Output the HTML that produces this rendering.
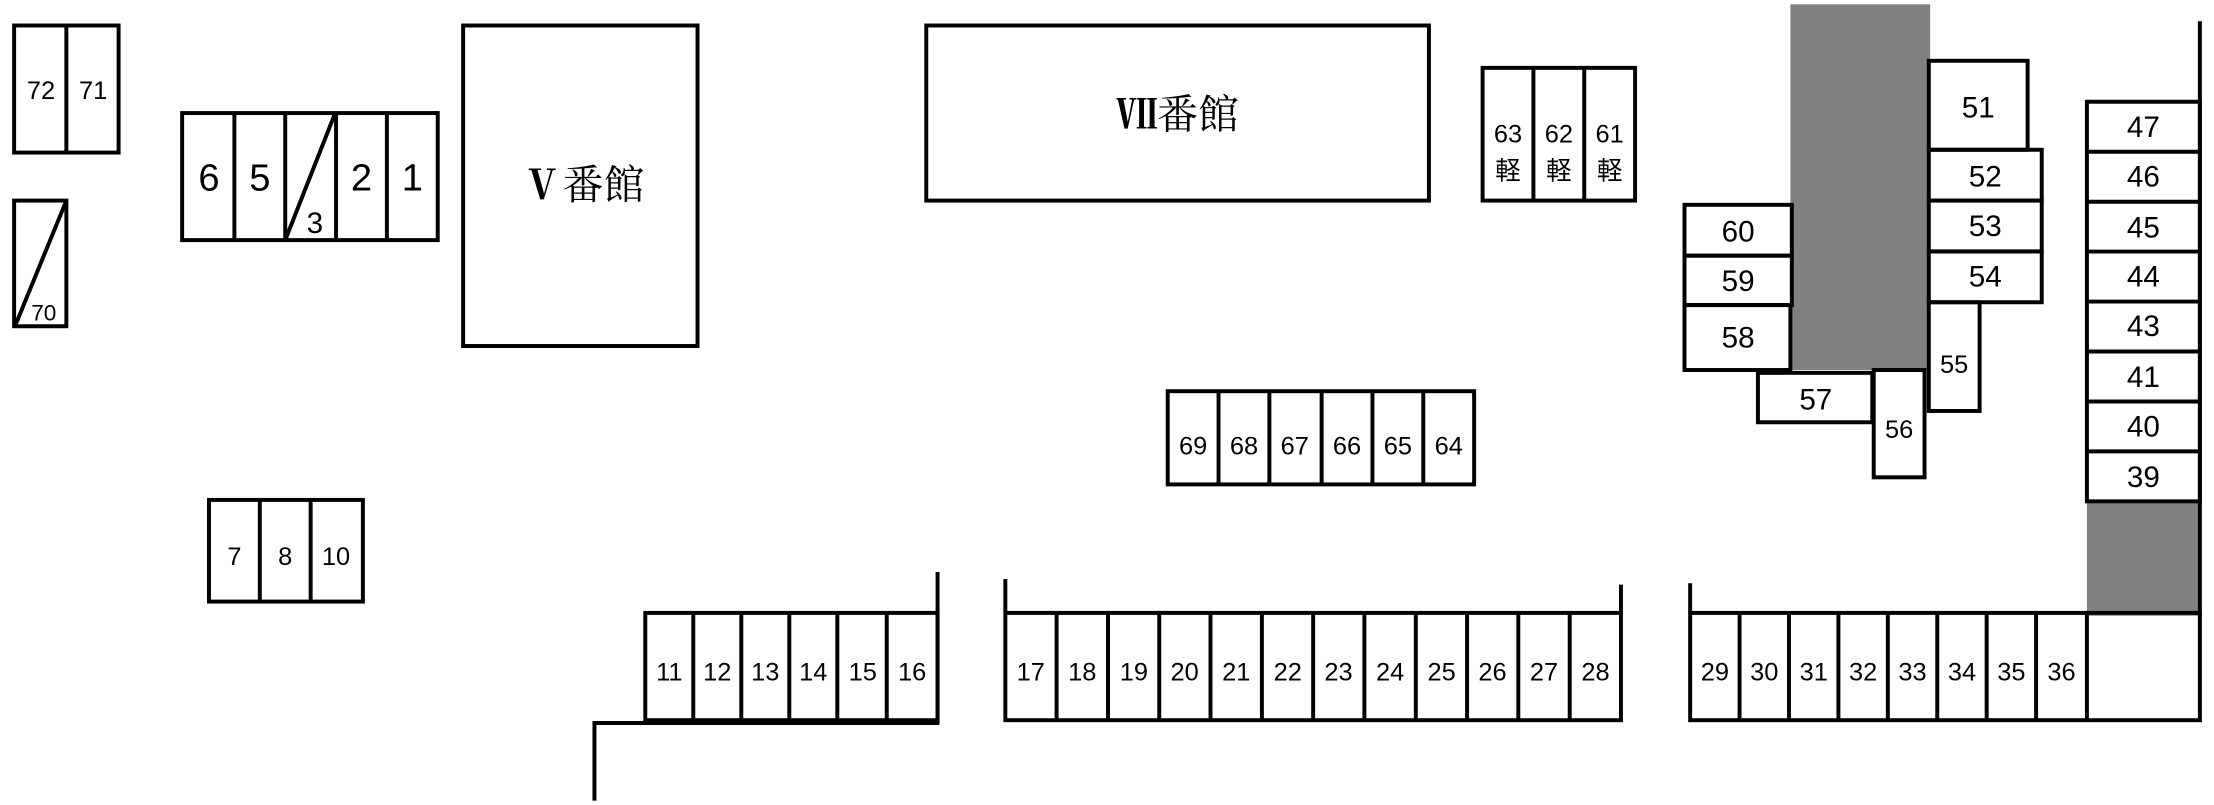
<!DOCTYPE html>
<html><head><meta charset="utf-8"><style>
html,body{margin:0;padding:0;background:#fff;}
svg{display:block;}
text{font-family:"Liberation Sans","Noto Sans CJK JP",sans-serif;text-anchor:middle;fill:#000;}
</style></head><body>
<svg width="2214" height="805" viewBox="0 0 1568 570" xmlns="http://www.w3.org/2000/svg">
<g fill="#808080" stroke="none">
<rect x="1268" y="3" width="99" height="259"/>
<rect x="1478" y="355" width="81" height="81"/>
</g>
<g fill="none" stroke="#000" stroke-width="2.8">
<rect x="10" y="18" width="74" height="90"/><line x1="47" y1="18" x2="47" y2="108"/>
<rect x="10" y="142" width="37" height="89"/><line x1="11" y1="230" x2="47" y2="142"/>
<rect x="129" y="80" width="181" height="90"/>
<line x1="166" y1="80" x2="166" y2="170"/><line x1="202" y1="80" x2="202" y2="170"/>
<line x1="238" y1="80" x2="238" y2="170"/><line x1="274" y1="80" x2="274" y2="170"/>
<line x1="202" y1="170" x2="237" y2="81"/>
<rect x="328" y="18" width="166" height="227"/>
<rect x="656" y="18" width="356" height="124"/>
<rect x="1050" y="48" width="108" height="94"/>
<line x1="1086" y1="48" x2="1086" y2="142"/><line x1="1122" y1="48" x2="1122" y2="142"/>
<rect x="827" y="277" width="217" height="66"/>
<line x1="863" y1="277" x2="863" y2="343"/><line x1="899" y1="277" x2="899" y2="343"/>
<line x1="936" y1="277" x2="936" y2="343"/><line x1="972" y1="277" x2="972" y2="343"/>
<line x1="1008" y1="277" x2="1008" y2="343"/>
<rect x="148" y="354" width="109" height="72"/>
<line x1="184" y1="354" x2="184" y2="426"/><line x1="220" y1="354" x2="220" y2="426"/>
<rect x="457" y="434" width="207" height="76"/>
<line x1="491" y1="434" x2="491" y2="510"/><line x1="525" y1="434" x2="525" y2="510"/>
<line x1="559" y1="434" x2="559" y2="510"/><line x1="593" y1="434" x2="593" y2="510"/>
<line x1="628" y1="434" x2="628" y2="510"/>
<line x1="664" y1="405" x2="664" y2="513"/>
<polyline points="665,512 421,512 421,567"/>
<line x1="457" y1="511" x2="665" y2="511" stroke-width="4"/>
<rect x="712" y="434" width="436" height="76"/>
<line x1="712" y1="410" x2="712" y2="434"/><line x1="1148" y1="414" x2="1148" y2="434"/>
<line x1="748.3" y1="434" x2="748.3" y2="510"/><line x1="784.7" y1="434" x2="784.7" y2="510"/>
<line x1="821" y1="434" x2="821" y2="510"/><line x1="857.3" y1="434" x2="857.3" y2="510"/>
<line x1="893.7" y1="434" x2="893.7" y2="510"/><line x1="930" y1="434" x2="930" y2="510"/>
<line x1="966.3" y1="434" x2="966.3" y2="510"/><line x1="1002.7" y1="434" x2="1002.7" y2="510"/>
<line x1="1039" y1="434" x2="1039" y2="510"/><line x1="1075.3" y1="434" x2="1075.3" y2="510"/>
<line x1="1111.7" y1="434" x2="1111.7" y2="510"/>
<rect x="1197" y="434" width="361" height="76"/>
<line x1="1197" y1="413" x2="1197" y2="434"/>
<line x1="1232" y1="434" x2="1232" y2="510"/><line x1="1267" y1="434" x2="1267" y2="510"/>
<line x1="1302" y1="434" x2="1302" y2="510"/><line x1="1337" y1="434" x2="1337" y2="510"/>
<line x1="1372" y1="434" x2="1372" y2="510"/><line x1="1407" y1="434" x2="1407" y2="510"/>
<line x1="1442" y1="434" x2="1442" y2="510"/><line x1="1478" y1="434" x2="1478" y2="510"/>
<rect x="1478" y="72" width="80" height="283"/>
<line x1="1478" y1="107.4" x2="1558" y2="107.4"/><line x1="1478" y1="142.8" x2="1558" y2="142.8"/>
<line x1="1478" y1="178.1" x2="1558" y2="178.1"/><line x1="1478" y1="213.5" x2="1558" y2="213.5"/>
<line x1="1478" y1="248.9" x2="1558" y2="248.9"/><line x1="1478" y1="284.3" x2="1558" y2="284.3"/>
<line x1="1478" y1="319.6" x2="1558" y2="319.6"/>
<line x1="1558" y1="15" x2="1558" y2="436"/>
<rect x="1366" y="43" width="70" height="63"/>
<rect x="1366" y="106" width="80" height="36"/>
<rect x="1366" y="142" width="80" height="36"/>
<rect x="1366" y="178" width="80" height="36"/>
<rect x="1366" y="214" width="36" height="77"/>
<rect x="1327" y="262" width="36" height="76"/>
<rect x="1245" y="264" width="81" height="35"/>
<rect x="1193" y="145" width="76" height="36"/>
<rect x="1193" y="181" width="76" height="35"/>
<rect x="1193" y="216" width="75" height="46"/>
</g>
<g font-size="18">
<text x="29" y="70">72</text><text x="66" y="70">71</text>
<text x="31" y="227" font-size="16">70</text>
</g>
<g font-size="27">
<text x="148" y="135">6</text><text x="184" y="135">5</text>
<text x="256" y="135">2</text><text x="292" y="135">1</text>
<text x="223" y="165" font-size="21">3</text>
</g>
<text x="413" y="141" font-size="29" style="font-family:'Liberation Serif','Noto Serif CJK SC',serif;"><tspan font-weight="bold">Ⅴ</tspan>番館</text>
<text x="834" y="91" font-size="29" style="font-family:'Liberation Serif','Noto Serif CJK SC',serif;"><tspan font-weight="bold">Ⅶ</tspan>番館</text>
<g font-size="18">
<text x="1068" y="101">63</text><text x="1104" y="101">62</text><text x="1140" y="101">61</text>
<text x="1068" y="127">軽</text><text x="1104" y="127">軽</text><text x="1140" y="127">軽</text>
<text x="845" y="322">69</text><text x="881" y="322">68</text><text x="917" y="322">67</text>
<text x="954" y="322">66</text><text x="990" y="322">65</text><text x="1026" y="322">64</text>
<text x="166" y="400">7</text><text x="202" y="400">8</text><text x="238" y="400">10</text>
</g>
<g font-size="18">
<text x="474" y="482">11</text><text x="508" y="482">12</text><text x="542" y="482">13</text>
<text x="576" y="482">14</text><text x="611" y="482">15</text><text x="646" y="482">16</text>
<text x="730" y="482">17</text><text x="766.5" y="482">18</text><text x="803" y="482">19</text>
<text x="839" y="482">20</text><text x="875.5" y="482">21</text><text x="912" y="482">22</text>
<text x="948" y="482">23</text><text x="984.5" y="482">24</text><text x="1021" y="482">25</text>
<text x="1057" y="482">26</text><text x="1093.5" y="482">27</text><text x="1130" y="482">28</text>
<text x="1214.5" y="482">29</text><text x="1249.5" y="482">30</text><text x="1284.5" y="482">31</text>
<text x="1319.5" y="482">32</text><text x="1354.5" y="482">33</text><text x="1389.5" y="482">34</text>
<text x="1424.5" y="482">35</text><text x="1460" y="482">36</text>
</g>
<g font-size="21">
<text x="1518" y="97">47</text><text x="1518" y="132">46</text><text x="1518" y="168">45</text>
<text x="1518" y="203">44</text><text x="1518" y="238">43</text><text x="1518" y="274">41</text>
<text x="1518" y="309">40</text><text x="1518" y="345">39</text>
<text x="1401" y="83">51</text><text x="1406" y="132">52</text><text x="1406" y="167">53</text>
<text x="1406" y="203">54</text>
<text x="1231" y="171">60</text><text x="1231" y="206">59</text><text x="1231" y="246">58</text>
<text x="1286" y="290">57</text>
</g>
<text x="1384" y="264" font-size="18">55</text>
<text x="1345" y="310" font-size="18">56</text>
</svg>
</body></html>
